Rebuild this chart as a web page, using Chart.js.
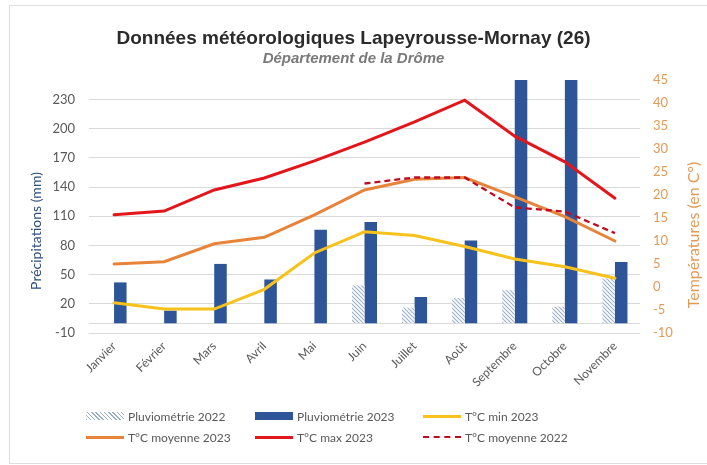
<!DOCTYPE html>
<html lang="fr">
<head>
<meta charset="utf-8">
<title>Données météorologiques Lapeyrousse-Mornay</title>
<script src="https://cdn.jsdelivr.net/npm/chart.js@4.4.1/dist/chart.umd.min.js"></script>
<style>
  body { margin: 0; background: #fff; }
  #wrap { position: relative; width: 707px; height: 465px; overflow: hidden; }
  #cadre { position: absolute; left: 9px; top: 5px; width: 720px; height: 457px; border: 1px solid #dedede; pointer-events: none; }
  .titre-axe { position: absolute; white-space: nowrap; font-family: Lato, sans-serif;
               transform: translate(-50%, -50%) rotate(-90deg); }
  #legende { position: absolute; left: 0; top: 406px; width: 707px; font-family: Lato, sans-serif; font-size: 12px; color: #595959; }
  .item { position: absolute; display: flex; align-items: center; white-space: nowrap; height: 20px; }
  .sym { width: 38px; margin-right: 4px; }
</style>
</head>
<body>
<div id="wrap">
  <canvas id="graphique" width="707" height="465"></canvas>
  <div id="cadre"></div>
  <div class="titre-axe" style="left:35px; top:231px; font-size:14px; color:#2F4E7E;">Précipitations (mm)</div>
  <div class="titre-axe" style="left:692px; top:235px; font-size:16px; color:#E39A57;">Températures (en C°)</div>
  <div id="legende"></div>
</div>
<script>
// Données météo
const mois = ['Janvier', 'Février', 'Mars', 'Avril', 'Mai', 'Juin', 'Juillet', 'Août', 'Septembre', 'Octobre', 'Novembre'];

// Précipitations (mm)
const pluvio2022 = [null, null, null, null, null, 39, 16, 26, 34, 17, 46];
const pluvio2023 = [42, 13, 61, 45, 96, 104, 27, 85, 265, 265, 63];

// Températures (°C)
const tMin2023 = [-3.4, -4.8, -4.8, -0.5, 7.4, 12.0, 11.2, 8.8, 6.1, 4.4, 1.9];
const tMoy2023 = [5.0, 5.5, 9.4, 10.8, 15.7, 21.1, 23.4, 23.8, 19.6, 15.3, 10.0];
const tMax2023 = [15.7, 16.5, 21.1, 23.7, 27.4, 31.5, 35.9, 40.6, 32.8, 27.2, 19.3];
const tMoy2022 = [null, null, null, null, null, 22.5, 23.8, 23.8, 17.3, 16.4, 11.7];

// Graduations des axes
const ticksPluie = [-10, 20, 50, 80, 110, 140, 170, 200, 230];
const ticksTemp = [-10, -5, 0, 5, 10, 15, 20, 25, 30, 35, 40, 45];

const BLEU = '#2E5597';
const ROUGE = '#E3161B';
const ROUGE_FONCE = '#C00A22';
const ORANGE = '#E8833A';
const JAUNE = '#F7C21B';

// Motif hachuré pour la pluviométrie 2022
function motifHachure() {
  const c = document.createElement('canvas');
  c.width = 4; c.height = 4;
  const g = c.getContext('2d');
  g.fillStyle = '#ffffff';
  g.fillRect(0, 0, 4, 4);
  g.strokeStyle = '#9DB1CE';
  g.lineWidth = 1.2;
  g.beginPath();
  g.moveTo(-1, -1); g.lineTo(5, 5);
  g.moveTo(-1, 3); g.lineTo(1, 5);
  g.moveTo(3, -1); g.lineTo(5, 1);
  g.stroke();
  return g.createPattern(c, 'repeat');
}

// Ligne du zéro des précipitations
const ligneZero = {
  id: 'ligneZero',
  beforeDatasetsDraw(chart) {
    const { ctx, chartArea, scales } = chart;
    const y = Math.round(scales.y.getPixelForValue(0)) + 0.5;
    ctx.save();
    ctx.strokeStyle = '#d9d9d9';
    ctx.lineWidth = 1;
    ctx.beginPath();
    ctx.moveTo(chartArea.left, y);
    ctx.lineTo(chartArea.right, y);
    ctx.stroke();
    ctx.restore();
  }
};

const ligne = (label, data, color, extra) => Object.assign({
  type: 'line', label, data, yAxisID: 'y1', order: 0,
  borderColor: color, backgroundColor: color, borderWidth: 3,
  pointRadius: 0, tension: 0, spanGaps: false, borderCapStyle: 'round'
}, extra || {});

new Chart(document.getElementById('graphique'), {
  data: {
    labels: mois,
    datasets: [
      ligne('T°C moyenne 2022', tMoy2022, ROUGE_FONCE, { borderWidth: 2.3, borderDash: [6, 4], borderCapStyle: 'butt' }),
      ligne('T°C max 2023', tMax2023, ROUGE),
      ligne('T°C moyenne 2023', tMoy2023, ORANGE),
      ligne('T°C min 2023', tMin2023, JAUNE),
      { type: 'bar', label: 'Pluviométrie 2022', data: pluvio2022, yAxisID: 'y', order: 1,
        backgroundColor: motifHachure(), categoryPercentage: 0.5, barPercentage: 1.0 },
      { type: 'bar', label: 'Pluviométrie 2023', data: pluvio2023, yAxisID: 'y', order: 1,
        backgroundColor: BLEU, categoryPercentage: 0.5, barPercentage: 1.0 }
    ]
  },
  options: {
    responsive: false,
    animation: false,
    layout: { padding: 0 },
    plugins: {
      legend: { display: false },
      tooltip: { enabled: false },
      title: {
        display: true,
        text: 'Données météorologiques Lapeyrousse-Mornay (26)',
        color: '#2b2b2b',
        font: { family: 'Liberation Sans', size: 19, weight: 'bold' },
        padding: { top: 27, bottom: 0 }
      },
      subtitle: {
        display: true,
        text: 'Département de la Drôme',
        color: '#7a7a7a',
        font: { family: 'Liberation Sans', size: 15, weight: 'bold', style: 'italic' },
        padding: { top: 0, bottom: 12.2 }
      }
    },
    scales: {
      x: {
        grid: { display: false, drawTicks: false },
        border: { display: false },
        ticks: { color: '#595959', font: { family: 'Lato', size: 12 }, maxRotation: 45, minRotation: 45, padding: 6 },
        afterFit: s => { s.height = 132; }
      },
      y: {
        position: 'left',
        min: -10, max: 250,
        afterBuildTicks: s => { s.ticks = ticksPluie.map(v => ({ value: v })); },
        grid: { color: '#d9d9d9', drawTicks: false },
        border: { display: false },
        ticks: { color: '#595959', font: { family: 'Lato', size: 13 }, padding: 14 },
        afterFit: s => { s.width = 89; }
      },
      y1: {
        position: 'right',
        min: -10, max: 45,
        afterBuildTicks: s => { s.ticks = ticksTemp.map(v => ({ value: v })); },
        grid: { display: false, drawTicks: false },
        border: { display: false },
        ticks: { color: '#E39A57', font: { family: 'Lato', size: 13 }, padding: 13 },
        afterFit: s => { s.width = 67; }
      }
    }
  },
  plugins: [ligneZero]
});

// Légende sur deux rangées, trois colonnes
const legende = [
  { texte: 'Pluviométrie 2022', x: 86, y: 0, sym: 'hachure' },
  { texte: 'Pluviométrie 2023', x: 255, y: 0, sym: 'barre', couleur: BLEU },
  { texte: 'T°C min 2023', x: 423, y: 0, sym: 'ligne', couleur: JAUNE },
  { texte: 'T°C moyenne 2023', x: 86, y: 21, sym: 'ligne', couleur: ORANGE },
  { texte: 'T°C max 2023', x: 255, y: 21, sym: 'ligne', couleur: ROUGE },
  { texte: 'T°C moyenne 2022', x: 423, y: 21, sym: 'tirets', couleur: ROUGE_FONCE }
];
const boite = document.getElementById('legende');
legende.forEach(it => {
  const el = document.createElement('div');
  el.className = 'item';
  el.style.left = it.x + 'px';
  el.style.top = it.y + 'px';
  const s = document.createElement('span');
  s.className = 'sym';
  if (it.sym === 'hachure') {
    s.style.height = '8px';
    s.style.background = 'repeating-linear-gradient(45deg, #9DB1CE 0 1px, #fff 1px 3px)';
  } else if (it.sym === 'barre') {
    s.style.height = '8px';
    s.style.background = it.couleur;
  } else if (it.sym === 'ligne') {
    s.style.height = '3px';
    s.style.background = it.couleur;
  } else {
    s.style.height = '0';
    s.style.borderTop = '2px dashed ' + it.couleur;
  }
  el.appendChild(s);
  const t = document.createElement('span');
  t.textContent = it.texte;
  el.appendChild(t);
  boite.appendChild(el);
});
</script>
</body>
</html>
